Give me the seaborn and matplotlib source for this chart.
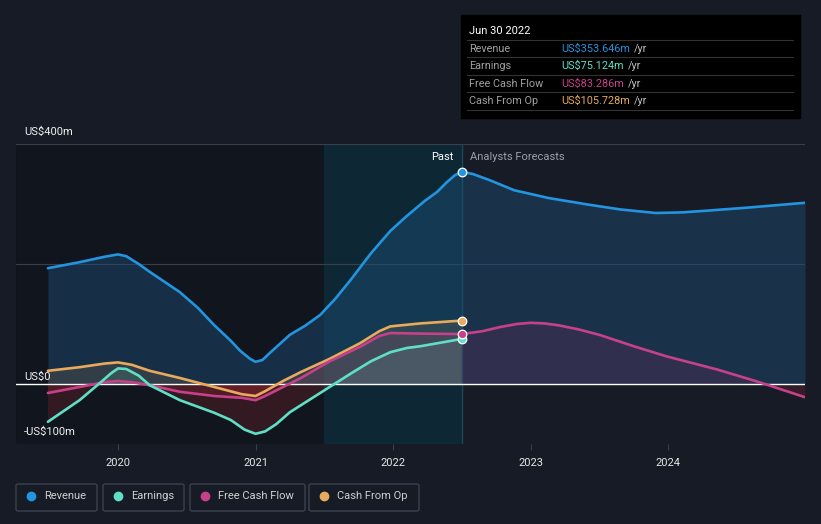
import numpy as np
import pandas as pd
import matplotlib
matplotlib.use("Agg")
import matplotlib.pyplot as plt
import seaborn as sns
from matplotlib.patches import Rectangle, FancyBboxPatch

plt.rcParams["font.family"] = ["Roboto", "DejaVu Sans"]

# dados (US$ milhoes)
rev_past_x = [2019.49, 2019.72, 2019.9, 2020.0, 2020.06, 2020.15, 2020.23, 2020.45, 2020.58, 2020.7,
              2020.82, 2020.89, 2020.96, 2021.0, 2021.05, 2021.11, 2021.25, 2021.36, 2021.47,
              2021.58, 2021.69, 2021.84, 2021.98, 2022.1, 2022.23, 2022.32, 2022.39, 2022.45, 2022.5]
rev_past_y = [193, 203, 212, 216, 213, 200, 187, 153, 127, 98,
              72, 55, 42, 37, 40, 53, 82, 97, 115,
              142, 173, 218, 255, 280, 305, 320, 336, 348, 353.6]
rev_fc_x = [2022.5, 2022.58, 2022.7, 2022.88, 2023.13, 2023.42, 2023.65, 2023.91, 2024.1, 2024.29,
            2024.58, 2024.996]
rev_fc_y = [353.6, 350, 340, 323, 310, 299, 291, 285, 286, 289, 294, 302]

earn_x = [2019.49, 2019.72, 2019.87, 2019.95, 2020.0, 2020.06, 2020.15, 2020.23, 2020.45, 2020.7,
          2020.82, 2020.92, 2021.0, 2021.07, 2021.15, 2021.25, 2021.47, 2021.69, 2021.84,
          2021.98, 2022.1, 2022.2, 2022.5]
earn_y = [-63, -27, 2, 18, 26, 25, 14, -2, -27, -48,
          -60, -76, -83, -79, -67, -47, -15, 17, 38,
          53, 60, 63, 75.1]

fcf_x = [2019.49, 2019.72, 2019.9, 2020.0, 2020.1, 2020.23, 2020.45, 2020.7, 2020.9, 2021.0,
         2021.07, 2021.2, 2021.33, 2021.54, 2021.76, 2021.9, 2021.98, 2022.2, 2022.5]
fcf_y = [-15, -5, 3, 5, 3, -2, -13, -20, -23, -27,
         -20, -5, 10, 38, 62, 80, 85, 84, 83.3]
fcf_fc_x = [2022.5, 2022.65, 2022.78, 2022.9, 2023.0, 2023.1, 2023.2, 2023.35, 2023.5, 2023.75,
            2023.99, 2024.36, 2024.65, 2024.996]
fcf_fc_y = [83.3, 88, 95, 100, 102, 101, 98, 91, 82, 63,
            46, 24, 4, -22]

cfo_x = [2019.49, 2019.72, 2019.9, 2020.0, 2020.1, 2020.23, 2020.45, 2020.7, 2020.9, 2021.0,
         2021.07, 2021.2, 2021.33, 2021.54, 2021.76, 2021.9, 2021.98, 2022.2, 2022.5]
cfo_y = [22, 28, 34, 36, 32, 22, 10, -5, -17, -20,
         -12, 5, 20, 42, 68, 88, 96, 101, 105.7]

series_names = ["Revenue", "Earnings", "Free Cash Flow", "Cash From Op"]
series_colors = ["#2394df", "#5fe0c6", "#c7418a", "#e8aa5c"]
tip_values = ["US$353.646m", "US$75.124m", "US$83.286m", "US$105.728m"]
year_ticks = [2020, 2021, 2022, 2023, 2024]

BG = "#161b26"
W, H = 821, 524

fig = plt.figure(figsize=(W / 100, H / 100), dpi=100, facecolor=BG)
ax = fig.add_axes([16 / W, 1 - 444 / H, (805 - 16) / W, 300 / H])
ax.set_facecolor(BG)
x0, x1 = 2019.258, 2024.996
ax.set_xlim(x0, x1)
ax.set_ylim(-100, 400)

# regioes de fundo
ax.axvspan(x0, 2021.5, color="#10141c", alpha=0.8, zorder=0)
ax.axvspan(2021.5, 2022.5, color="#0d2a36", alpha=0.9, zorder=0)

# grade
for v in [400, 200, -100]:
    ax.axhline(v, color="#3a404b", lw=0.8, zorder=1)
ax.axhline(0, color="white", lw=1.0, zorder=4)
ax.axvline(2022.5, color="#1f4655", lw=1, zorder=1)

# preenchimentos
rx = np.array(rev_past_x + rev_fc_x[1:])
ry = np.array(rev_past_y + rev_fc_y[1:])
ax.fill_between(rx, ry, 0, color="#1d4f78", alpha=0.45, lw=0, zorder=2)
for xs, ys, c in [(earn_x, earn_y, series_colors[1]), (fcf_x, fcf_y, series_colors[2]),
                  (cfo_x, cfo_y, series_colors[3])]:
    xs = np.array(xs); ys = np.array(ys)
    ax.fill_between(xs, ys, 0, where=ys >= 0, interpolate=True, color=c, alpha=0.13, lw=0, zorder=2)
    ax.fill_between(xs, ys, 0, where=ys < 0, interpolate=True, color="#b0282f", alpha=0.22, lw=0, zorder=2)
fx = np.array(fcf_fc_x); fy = np.array(fcf_fc_y)
ax.fill_between(fx, fy, 0, where=fy >= 0, interpolate=True, color="#7a2a5c", alpha=0.25, lw=0, zorder=2)
ax.fill_between(fx, fy, 0, where=fy < 0, interpolate=True, color="#b0282f", alpha=0.2, lw=0, zorder=2)

# linhas
lines = [
    (rx, ry, series_colors[0]),
    (earn_x, earn_y, series_colors[1]),
    (fcf_x + fcf_fc_x[1:], fcf_y + fcf_fc_y[1:], series_colors[2]),
    (cfo_x, cfo_y, series_colors[3]),
]
for xs, ys, c in lines[::-1]:
    df = pd.DataFrame({"x": xs, "y": ys})
    sns.lineplot(data=df, x="x", y="y", ax=ax, color=c, lw=1.9, zorder=5, sort=False,
                 solid_joinstyle="round", solid_capstyle="round")

# pontos no Jun 30 2022
for val, c in zip([rev_past_y[-1], earn_y[-1], fcf_y[-1], cfo_y[-1]], series_colors):
    ax.scatter([2022.5], [val], s=38, color=c, edgecolor="white", lw=0.9, zorder=7)

# eixos
for s in ax.spines.values():
    s.set_visible(False)
ax.set_xlabel("")
ax.set_ylabel("")
ax.set_yticks([])
ax.set_xticks(year_ticks)
ax.set_xticklabels([str(y) for y in year_ticks], color="#e6e6e6", fontsize=8)
ax.tick_params(axis="x", length=4, color="#3a404b", pad=6)

txt = dict(color="#f0f0f0", fontsize=8)
ax.text(x0 + 0.06, 12, "US$0", va="center", ha="left", **txt, zorder=6)
ax.text(x0 + 0.06, 420, "US$400m", va="center", ha="left", **txt, clip_on=False)
ax.text(x0 + 0.06, -80, "-US$100m", va="center", ha="left", **txt, zorder=6)
ax.text(2022.44, 378, "Past", ha="right", va="center", color="white", fontsize=8)
ax.text(2022.56, 378, "Analysts Forecasts", ha="left", va="center", color="#9aa0a8", fontsize=8)

# caixa de informacao
fig.patches.append(Rectangle((461 / W, 1 - 118 / H), 339 / W, 103 / H,
                             transform=fig.transFigure, color="#000000", zorder=10))
fig.text(469 / W, 1 - 31 / H, "Jun 30 2022", color="white", fontsize=8, va="center", zorder=11)
row_y = [49, 66, 84, 101]
for i, yy in enumerate(row_y):
    fig.add_artist(plt.Line2D([467 / W, 793 / W], [1 - (yy - 9) / H] * 2, color="#333", lw=0.8, zorder=11))
    fig.text(469 / W, 1 - yy / H, series_names[i], color="#a0a0a0", fontsize=7.8, va="center", zorder=11)
    t = fig.text(561 / W, 1 - yy / H, tip_values[i], color=series_colors[i], fontsize=7.8, va="center", zorder=11)
    fig.canvas.draw()
    bb = t.get_window_extent()
    fig.text(bb.x1 / W + 4 / W, 1 - yy / H, "/yr", color="#c0c0c0", fontsize=7.8, va="center", zorder=11)
fig.add_artist(plt.Line2D([467 / W, 793 / W], [1 - 110 / H] * 2, color="#333", lw=0.8, zorder=11))

# legenda
leg_boxes = [(16, 97), (103, 184), (190, 305), (309, 419)]
for (a, b), name, c in zip(leg_boxes, series_names, series_colors):
    fig.patches.append(FancyBboxPatch((a / W, 1 - 511 / H), (b - a) / W, 27 / H,
                                      boxstyle="round,pad=0,rounding_size=0.003",
                                      transform=fig.transFigure, fc=BG, ec="#3c424d", lw=1))
    fig.add_artist(plt.Line2D([(a + 15) / W], [1 - 496 / H], marker="o", ms=6, color=c,
                              transform=fig.transFigure))
    fig.text((a + 28) / W, 1 - 496 / H, name, color="#d0d0d0", fontsize=8, va="center")

fig.savefig("out.png", dpi=100, facecolor=BG)
